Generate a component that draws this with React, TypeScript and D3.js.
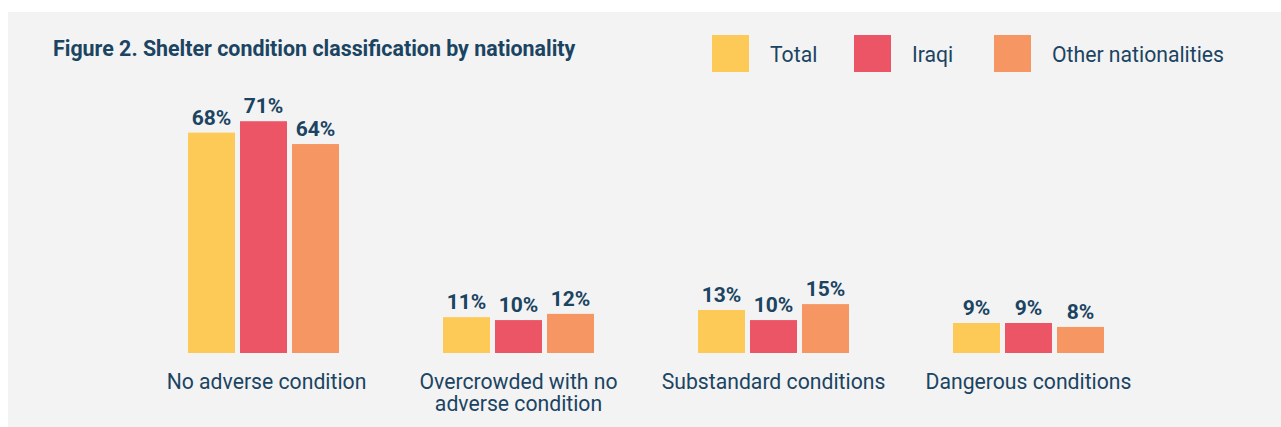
import * as React from "react";
import * as d3 from "d3";

const categories = [
  "No adverse condition",
  "Overcrowded with no adverse condition",
  "Substandard conditions",
  "Dangerous conditions",
];
const categoryLines = [
  ["No adverse condition"],
  ["Overcrowded with no", "adverse condition"],
  ["Substandard conditions"],
  ["Dangerous conditions"],
];
const seriesNames = ["Total", "Iraqi", "Other nationalities"];
const totalValues = [67.6, 11, 13.2, 9.2];
const iraqiValues = [71.1, 10.1, 10.1, 9.2];
const otherValues = [64.1, 12, 15, 8];
const seriesColors = ["#fdca58", "#ec5565", "#f69763"];

const W = 1281;
const H = 427;
const TEXT = "#1b4462";
const FONT = "Roboto, 'Noto Sans', sans-serif";

function T({ x, y, size, weight, anchor, children }: any) {
  return (
    <text
      x={x}
      y={y}
      fontFamily={FONT}
      fontSize={size}
      fontWeight={weight || 400}
      textAnchor={anchor || "start"}
      fill={TEXT}
    >
      {children}
    </text>
  );
}

export default function App() {
  const series = [totalValues, iraqiValues, otherValues];

  const x0 = d3
    .scaleBand<string>()
    .domain(categories)
    .range([136, 1156])
    .paddingInner(104 / 255)
    .paddingOuter(52 / 255);

  const x1 = d3
    .scaleBand<string>()
    .domain(seriesNames)
    .range([0, x0.bandwidth()])
    .paddingInner(5 / 52);

  const y = d3.scaleLinear().domain([0, 100]).range([353, 27]);

  // legend swatch positions
  const legendX = [712, 854, 994];

  return (
    <svg
      width={W}
      height={H}
      style={{ position: "absolute", left: 0, top: 0, display: "block" }}
    >
      <rect x={8} y={12} width={W - 8} height={H - 12} fill="#f3f3f3" />

      <T x={53} y={56} size={21.4} weight={700}>
        Figure 2. Shelter condition classification by nationality
      </T>

      {seriesNames.map((name, i) => (
        <g key={name}>
          <rect x={legendX[i]} y={35} width={37} height={37} fill={seriesColors[i]} />
          <T x={legendX[i] + 58} y={61.5} size={21.2}>
            {name}
          </T>
        </g>
      ))}

      {categories.map((cat, ci) => (
        <g key={cat} transform={`translate(${x0(cat)},0)`}>
          {seriesNames.map((name, si) => {
            const v = series[si][ci];
            const bx = x1(name) as number;
            return (
              <g key={name}>
                <rect
                  x={bx}
                  y={y(v)}
                  width={x1.bandwidth()}
                  height={y(0) - y(v)}
                  fill={seriesColors[si]}
                />
                <T x={bx + x1.bandwidth() / 2} y={y(v) - 8} size={21} weight={700} anchor="middle">
                  {`${Math.round(v)}%`}
                </T>
              </g>
            );
          })}
          {categoryLines[ci].map((line, li) => (
            <T
              key={li}
              x={x0.bandwidth() / 2 + (ci === 0 ? 3 : 0)}
              y={389 + li * 22}
              size={21.2}
              anchor="middle"
            >
              {line}
            </T>
          ))}
        </g>
      ))}
    </svg>
  );
}
